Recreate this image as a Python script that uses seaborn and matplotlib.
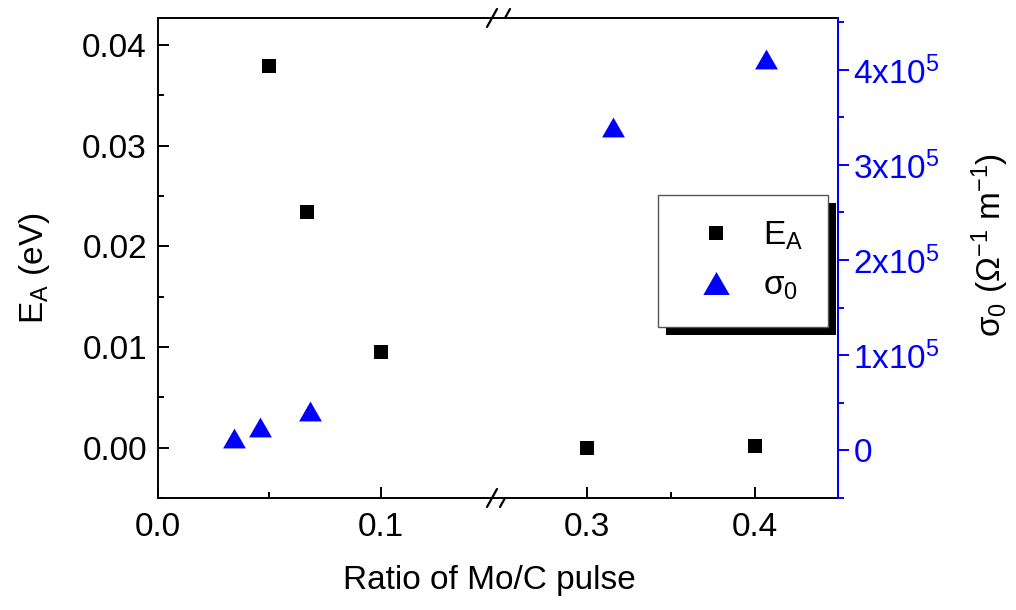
import numpy as np
import pandas as pd
import matplotlib
matplotlib.use("Agg")
import matplotlib.pyplot as plt
import seaborn as sns
from matplotlib.ticker import FixedLocator, MultipleLocator, FixedFormatter
from matplotlib.patches import Rectangle
from matplotlib.lines import Line2D

# ---------------- data ----------------
ea_ratio = [0.05, 0.0667, 0.1, 0.3, 0.4]
ea_values = [0.0379, 0.0234, 0.0095, 0.0000, 0.0002]
sigma_ratio = [0.034, 0.0457, 0.068, 0.3157, 0.4065]
sigma_values = [1.26e4, 2.4e4, 4.1e4, 3.4e5, 4.12e5]

left_xticks = [0.0, 0.1]
left_xticklabels = ["0.0", "0.1"]
right_xticks = [0.3, 0.4]
right_xticklabels = ["0.3", "0.4"]
left_yticks = [0.00, 0.01, 0.02, 0.03, 0.04]
left_yticklabels = ["0.00", "0.01", "0.02", "0.03", "0.04"]
right_yticks = [0, 1e5, 2e5, 3e5, 4e5]
right_yticklabels = ["0", "1x10$^5$", "2x10$^5$", "3x10$^5$", "4x10$^5$"]
xlabel = "Ratio of Mo/C pulse"
ylabel_left = r"E$_\mathrm{A}$ (eV)"
ylabel_right = "σ$_\\mathrm{0}$ (Ω$^\\mathrm{-1}$ m$^\\mathrm{-1}$)"
legend_labels = [r"E$_\mathrm{A}$", r"σ$_\mathrm{0}$"]

# ---------------- style ----------------
sns.set_style("ticks")
plt.rcParams["font.family"] = ["Liberation Sans", "DejaVu Sans"]
plt.rcParams["mathtext.fontset"] = "custom"
plt.rcParams["mathtext.rm"] = "Liberation Sans"
plt.rcParams["mathtext.it"] = "Liberation Sans:italic"
plt.rcParams["mathtext.bf"] = "Liberation Sans:bold"
plt.rcParams["mathtext.sf"] = "Liberation Sans"
plt.rcParams["text.color"] = "black"
plt.rcParams["xtick.color"] = "black"
plt.rcParams["ytick.color"] = "black"
plt.rcParams["axes.labelcolor"] = "black"

FS = 24
BLUE = "#0000FF"
LW = 1.4

df_e = pd.DataFrame({"ratio": ea_ratio, "EA": ea_values})
df_s = pd.DataFrame({"ratio": sigma_ratio, "sigma": sigma_values})

fig = plt.figure(figsize=(10.16, 6.10), dpi=100)
W, H = 1016, 610
x0, xb, x1 = 158, 499, 838
y_top, y_bot = 18, 498
ax1 = fig.add_axes([x0 / W, 1 - y_bot / H, (xb - x0) / W, (y_bot - y_top) / H])
ax2 = fig.add_axes([xb / W, 1 - y_bot / H, (x1 - xb) / W, (y_bot - y_top) / H])

xlim_left = (0.0, 0.153)
xlim_right = (0.248, 0.449)
ylim_e = (-0.005, 0.0427)
ylim_s = (-0.505e5, 4.547e5)

tri = [(0, 0.87), (-1, -0.87), (1, -0.87)]

for ax, xl in [(ax1, xlim_left), (ax2, xlim_right)]:
    sub = df_e[(df_e.ratio >= xl[0]) & (df_e.ratio <= xl[1])]
    sns.scatterplot(data=sub, x="ratio", y="EA", ax=ax, marker="s", color="black",
                    s=88, linewidth=0, legend=False, zorder=3)
    ax.set_xlim(*xl)
    ax.set_ylim(*ylim_e)
    ax.set_xlabel("")
    ax.set_ylabel("")
    for sp in ax.spines.values():
        sp.set_linewidth(LW)
        sp.set_color("black")

axb = []
for ax, xl in [(ax1, xlim_left), (ax2, xlim_right)]:
    tw = ax.twinx()
    sub = df_s[(df_s.ratio >= xl[0]) & (df_s.ratio <= xl[1])]
    sns.scatterplot(data=sub, x="ratio", y="sigma", ax=tw, marker=tri, color=BLUE,
                    s=270, linewidth=0, legend=False, zorder=3)
    tw.set_xlim(*xl)
    tw.set_ylim(*ylim_s)
    tw.set_xlabel("")
    tw.set_ylabel("")
    for sp in tw.spines.values():
        sp.set_visible(False)
    axb.append(tw)
ax1b, ax2b = axb

# spines for break
ax1.spines["right"].set_visible(False)
ax2.spines["left"].set_visible(False)

# left axis ticks
ax1.yaxis.set_major_locator(FixedLocator(left_yticks))
ax1.yaxis.set_major_formatter(FixedFormatter(left_yticklabels))
ax1.yaxis.set_minor_locator(MultipleLocator(0.005))
ax1.tick_params(axis="y", which="major", direction="in", length=8, width=LW,
                labelsize=FS, pad=8, right=False, colors="black")
ax1.tick_params(axis="y", which="minor", direction="in", length=4.5, width=LW, right=False,
                colors="black")

# x ticks
ax1.xaxis.set_major_locator(FixedLocator(left_xticks))
ax1.xaxis.set_major_formatter(FixedFormatter(left_xticklabels))
ax1.xaxis.set_minor_locator(FixedLocator([0.05]))
ax2.xaxis.set_major_locator(FixedLocator(right_xticks))
ax2.xaxis.set_major_formatter(FixedFormatter(right_xticklabels))
ax2.xaxis.set_minor_locator(FixedLocator([0.35]))
for ax in (ax1, ax2):
    ax.tick_params(axis="x", which="major", direction="in", length=8, width=LW,
                   labelsize=FS, pad=10, top=False, colors="black")
    ax.tick_params(axis="x", which="minor", direction="in", length=4.5, width=LW, top=False,
                   colors="black")

ax2.tick_params(axis="y", which="both", left=False, right=False, labelleft=False)
ax1b.tick_params(axis="y", which="both", left=False, right=False, labelright=False)
ax1b.tick_params(axis="x", which="both", bottom=False, top=False, labelbottom=False)

# right blue axis
ax2b.spines["right"].set_visible(True)
ax2b.spines["right"].set_color(BLUE)
ax2b.spines["right"].set_linewidth(LW)
ax2b.yaxis.set_major_locator(FixedLocator(right_yticks))
ax2b.yaxis.set_major_formatter(FixedFormatter(right_yticklabels))
ax2b.yaxis.set_minor_locator(MultipleLocator(0.5e5))
ax2b.tick_params(axis="y", which="major", direction="out", length=8, width=LW,
                 colors=BLUE, labelsize=FS, pad=3)
ax2b.tick_params(axis="y", which="minor", direction="out", length=4.5, width=LW, colors=BLUE)

# labels
fig.text((x0 + x1) / 2 / W - 0.008, 1 - 580 / H, xlabel, ha="center", va="center",
         fontsize=FS, color="black")
fig.text(35 / W, 1 - 268 / H, ylabel_left, ha="center", va="center", rotation=90,
         fontsize=FS, color="black")
fig.text(990 / W, 1 - 245 / H, ylabel_right, ha="center", va="center", rotation=90,
         fontsize=FS, color="black")

# break marks
tr = ax1.transAxes
bw = xb - x0
bh = y_bot - y_top
for yc in (0.0, 1.0):
    for xc in (-7, 6):
        ax1.plot([1 + (xc - 5) / bw, 1 + (xc + 5) / bw], [yc - 9 / bh, yc + 9 / bh],
                 transform=tr, color="black", lw=1.6, clip_on=False, zorder=10)

# legend
handles = [Line2D([], [], marker="s", color="black", linestyle="none", markersize=10, markeredgewidth=0),
           Line2D([], [], marker=tri, color=BLUE, linestyle="none", markersize=19, markeredgewidth=0)]
leg = ax2b.legend(handles, legend_labels, loc="upper left",
                  bbox_to_anchor=(658 / W, 1 - 195 / H), bbox_transform=fig.transFigure,
                  frameon=True, fancybox=False, framealpha=1, edgecolor="#555555",
                  fontsize=FS, handletextpad=0.4, borderpad=0.75, labelspacing=0.55,
                  handlelength=2.0, borderaxespad=0)
leg.get_frame().set_linewidth(1.0)
leg.set_zorder(20)

fig.canvas.draw()
bb = leg.get_frame().get_window_extent()
inv = fig.transFigure.inverted()
(fx0, fy0) = inv.transform((bb.x0 + 8, bb.y0 - 8))
(fx1, fy1) = inv.transform((bb.x1 + 8, bb.y1 - 8))
shadow = Rectangle((fx0, fy0), fx1 - fx0, fy1 - fy0, transform=fig.transFigure,
                   facecolor="black", edgecolor="none", zorder=19, clip_on=False)
ax2b.add_artist(shadow)

fig.savefig("out.png", dpi=100)
